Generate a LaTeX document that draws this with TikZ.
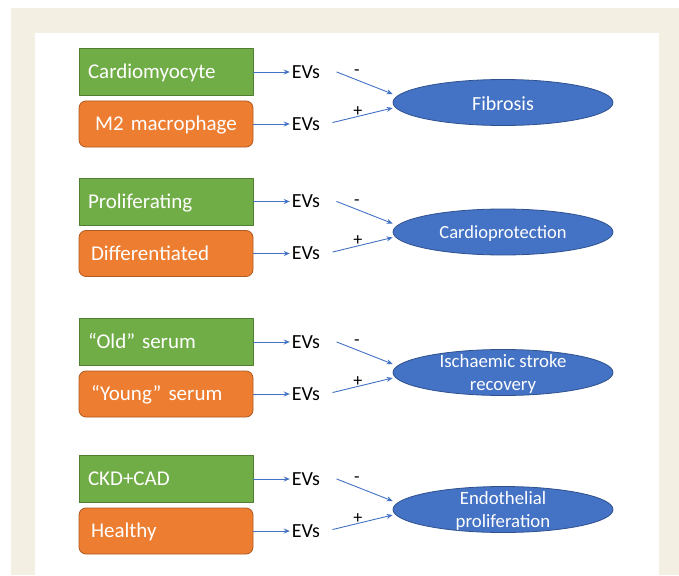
\documentclass[tikz,border=0pt]{standalone}
\usepackage{fontspec}
\setmainfont{Carlito}
\usetikzlibrary{shapes.geometric,arrows.meta,calc}
\definecolor{pagebeige}{HTML}{F3F0E3}
\definecolor{cellgreen}{HTML}{70AD47}
\definecolor{cellgreenline}{HTML}{507E32}
\definecolor{cellorange}{HTML}{ED7D31}
\definecolor{cellorangeline}{HTML}{AE5A21}
\definecolor{outblue}{HTML}{4472C4}
\definecolor{outblueline}{HTML}{2F528F}
\begin{document}
\begin{tikzpicture}[x=1pt, y=-1pt, line cap=round, line join=round, >={Stealth[length=6pt,width=5pt]}]
	\tikzset{greenbox/.style={draw=cellgreenline, fill=cellgreen, line width=0.8pt, text=white, minimum width=174pt, minimum height=47pt, inner xsep=9pt, inner ysep=0pt, text width=156pt, text height=17pt, text depth=4pt, align=left, font=\fontsize{21}{25}\selectfont},
		orangebox/.style={draw=cellorangeline, fill=cellorange, line width=0.8pt, rounded corners=7pt, text=white, minimum width=174pt, minimum height=46pt, inner xsep=12pt, inner ysep=0pt, text width=150pt, text height=17pt, text depth=4pt, font=\fontsize{21}{25}\selectfont},
		evs/.style={inner sep=2pt, text height=16pt, text depth=3.5pt, font=\fontsize{20}{24}\selectfont},
		outcome/.style={ellipse, draw=outblueline, fill=outblue, line width=0.8pt, minimum width=220pt, minimum height=46pt, inner sep=0pt},
		outcometext/.style={text=white, align=center},
		flow/.style={draw=outblue, line width=0.9pt},
		sign/.style={font=\fontsize{18}{20}\selectfont, inner sep=0pt}}
	\useasboundingbox (0,0) rectangle (679,575);
	% page frame
	\fill[pagebeige] (11,8) rectangle (679,575);
	\fill[white] (35,33) rectangle (659,575);
	\foreach \y/\gtext/\otext/\oal/\etext/\efont [count=\i] in {72/Cardiomyocyte/M2 macrophage/center/Fibrosis/20,
		201.5/Proliferating/Differentiated/left/Cardioprotection/18.5,
		342/“Old” serum/“Young” serum/left/{Ischaemic stroke\\recovery}/18.8,
		479/CKD+CAD/Healthy/left/{Endothelial\\proliferation}/18.8}{
		\node[greenbox] (g\i) at (166,\y) {\gtext};
		\node[orangebox, align=\oal] (o\i) at (166,\y+52) {\otext};
		\node[evs] (eg\i) at (306,\y) {EVs};
		\node[evs] (eo\i) at (306,\y+52) {EVs};
		\node[outcome] (f\i) at (503,\y+30.5) {};
		\node[outcometext, font=\fontsize{\efont}{23}\selectfont] (ft\i) at ($(f\i.center)+(0,1.5)$) {\etext};
		\coordinate (mg\i) at ($(eg\i.east)+(14.5,0)$);
		\coordinate (mo\i) at ($(eo\i.east)+(10.5,-1.5)$);
		\draw[flow,->] (g\i) -- (eg\i);
		\draw[flow,->] (o\i) -- (eo\i);
		\draw[flow,->] (mg\i) -- ($(f\i.west)+(0,-8.5)$) node[sign, pos=0.36, yshift=7pt] {-};
		\draw[flow,->] (mo\i) -- ($(f\i.west)+(0,5.5)$) node[sign, pos=0.42, yshift=5pt] {+};
	}
\end{tikzpicture}
\end{document}
